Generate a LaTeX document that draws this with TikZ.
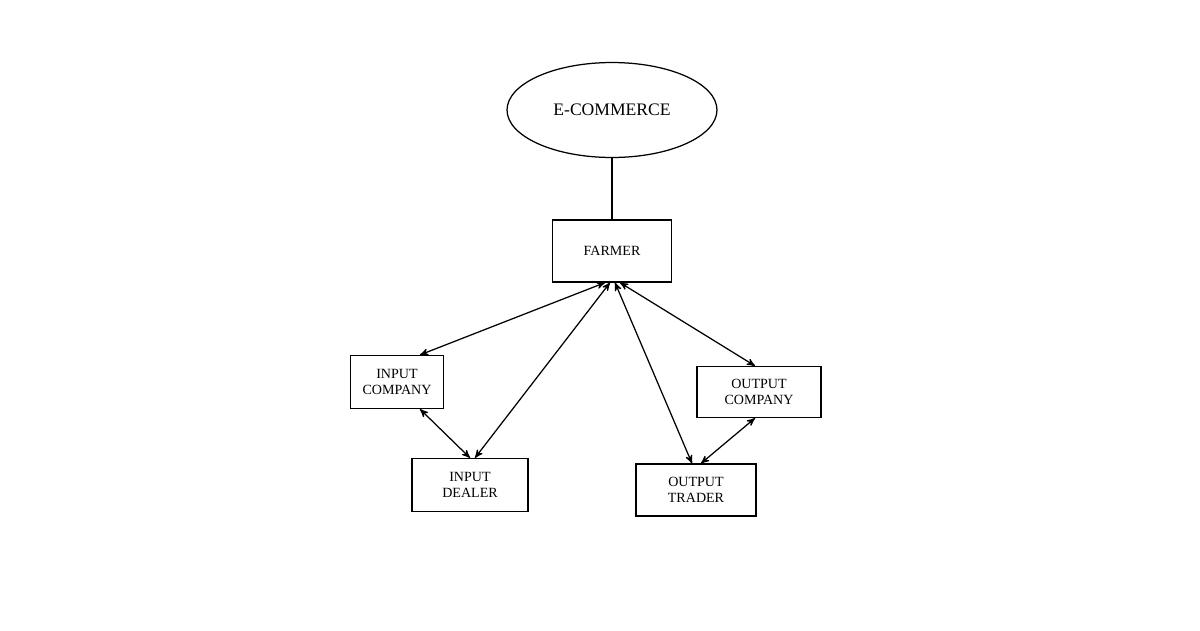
\documentclass[tikz,border=0pt]{standalone}
\usepackage{fontspec}
\setmainfont{Liberation Serif}
\usetikzlibrary{arrows,shapes,positioning}
\begin{document}
\begin{tikzpicture}[x=0.02cm,y=-0.02cm,<->,>=stealth',line width=0.25mm,
  box/.style={draw,rectangle,align=center,font=\footnotesize,inner sep=0pt}]

  \useasboundingbox (0,0) rectangle (1200,630);

  \node[draw,ellipse,minimum width=4.2cm,minimum height=1.9cm,font=\normalsize] (ecom) at (612,110) {E-COMMERCE};
  \node[box,minimum width=2.38cm,minimum height=1.24cm] (farmer) at (612,251) {FARMER};
  \node[box,minimum width=1.86cm,minimum height=1.06cm] (incomp) at (397,382) {INPUT\\COMPANY};
  \node[box,minimum width=2.32cm,minimum height=1.06cm] (indeal) at (470,485) {INPUT\\DEALER};
  \node[box,minimum width=2.48cm,minimum height=1.02cm] (outcomp) at (759,392) {OUTPUT\\COMPANY};
  \node[box,minimum width=2.4cm,minimum height=1.04cm] (outtrad) at (696,490) {OUTPUT\\TRADER};

  \draw[-] (ecom) -- (farmer);
  \draw ([xshift=-0.14cm]farmer.south) -- ([xshift=0.46cm]incomp.north);
  \draw ([xshift=-0.04cm]farmer.south) -- ([xshift=0.1cm]indeal.north);
  \draw ([xshift=0.06cm]farmer.south) -- ([xshift=-0.08cm]outtrad.north);
  \draw ([xshift=0.16cm]farmer.south) -- ([xshift=-0.08cm]outcomp.north);
  \draw ([xshift=0.46cm]incomp.south) -- (indeal.north);
  \draw ([xshift=-0.08cm]outcomp.south) -- ([xshift=0.1cm]outtrad.north);

\end{tikzpicture}
\end{document}
